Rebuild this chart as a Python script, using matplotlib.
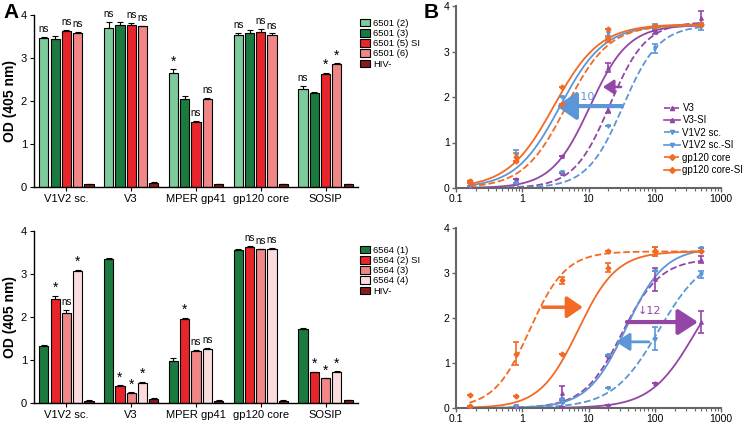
import numpy as np
import matplotlib
matplotlib.use("Agg")
import matplotlib.pyplot as plt
from matplotlib.lines import Line2D
from matplotlib.patches import Patch

plt.rcParams['font.family'] = ['Liberation Sans', 'DejaVu Sans']

# ---------------- data: panel A ----------------
groups = ["V1V2 sc.", "V3", "MPER gp41", "gp120 core", "SOSIP"]

top_labels = ["6501 (2)", "6501 (3)", "6501 (5) SI", "6501 (6)", "HIV-"]
top_colors = ["#7dcb9b", "#1b7a3e", "#e8252b", "#f08686", "#861c20"]
t_2 = [3.47, 3.70, 2.64, 3.53, 2.28]
t_3 = [3.45, 3.77, 2.04, 3.57, 2.19]
t_5 = [3.63, 3.76, 1.52, 3.60, 2.63]
t_6 = [3.59, 3.74, 2.05, 3.53, 2.87]
t_neg = [0.06, 0.10, 0.06, 0.06, 0.07]
t_err = [[0.02, 0.14, 0.10, 0.06, 0.07],
         [0.07, 0.06, 0.08, 0.08, 0.02],
         [0.02, 0.06, 0.02, 0.08, 0.03],
         [0.01, 0.01, 0.03, 0.04, 0.01],
         [0.01, 0.01, 0.01, 0.01, 0.01]]
t_sig = [["ns", "", "ns", "ns", ""],
         ["ns", "", "ns", "ns", ""],
         ["*", "", "ns", "ns", ""],
         ["ns", "", "ns", "ns", ""],
         ["ns", "", "*", "*", ""]]

bot_labels = ["6564 (1)", "6564 (2) SI", "6564 (3)", "6564 (4)", "HIV-"]
bot_colors = ["#1b7a3e", "#e8252b", "#f08686", "#fbdcdc", "#861c20"]
b_1 = [1.33, 3.36, 0.97, 3.56, 1.73]
b_2 = [2.43, 0.40, 1.96, 3.63, 0.71]
b_3 = [2.09, 0.24, 1.22, 3.57, 0.57]
b_4 = [3.07, 0.47, 1.26, 3.59, 0.73]
b_neg = [0.05, 0.10, 0.05, 0.05, 0.07]
b_err = [[0.02, 0.01, 0.07, 0.03, 0.02],
         [0.07, 0.01, 0.02, 0.03, 0.02],
         [0.08, 0.01, 0.02, 0.02, 0.01],
         [0.03, 0.03, 0.03, 0.02, 0.01],
         [0.01, 0.01, 0.01, 0.01, 0.01]]
b_sig = [["", "*", "ns", "*", ""],
         ["", "*", "*", "*", ""],
         ["", "*", "ns", "ns", ""],
         ["", "ns", "ns", "ns", ""],
         ["", "*", "*", "*", ""]]

# ---------------- data: panel B ----------------
conc = [0.16, 0.8, 4, 20, 100, 500]
series_names = ["V3", "V3-SI", "V1V2 sc.", "V1V2 sc.-SI", "gp120 core", "gp120 core-SI"]
series_colors = ["#9346a6", "#9346a6", "#5b96d6", "#5b96d6", "#f26a24", "#f26a24"]
series_ls = ["--", "-", "--", "-", "--", "-"]
series_mk = ["^", "^", "v", "v", "D", "D"]

bt_points = [[0.03, 0.10, 0.33, 1.71, 3.44, 3.73],
             [0.05, 0.20, 0.70, 2.64, 3.47, 3.60],
             [0.05, 0.12, 0.35, 1.36, 3.07, 3.55],
             [0.15, 0.72, 2.00, 3.40, 3.55, 3.55],
             [0.12, 0.60, 1.85, 3.27, 3.55, 3.60],
             [0.15, 0.68, 2.22, 3.50, 3.57, 3.58]]
bt_err = [[0, 0, 0, 0.06, 0.05, 0.17],
          [0, 0, 0, 0.10, 0, 0],
          [0, 0, 0, 0, 0.10, 0.08],
          [0, 0.12, 0, 0.10, 0.05, 0],
          [0, 0, 0, 0.07, 0, 0],
          [0, 0.10, 0, 0, 0, 0]]
# fit parameters: top, EC50, hill
bt_fit = [[3.65, 21.0, 1.6], [3.58, 10.5, 1.5], [3.58, 33.0, 1.6],
          [3.58, 3.7, 1.3], [3.58, 4.6, 1.35], [3.60, 3.0, 1.25]]

bb_points = [[0.03, 0.05, 0.33, 1.15, 2.86, 3.30],
             [0.00, 0.01, 0.03, 0.07, 0.55, 1.91],
             [0.02, 0.05, 0.12, 0.44, 1.54, 2.97],
             [0.02, 0.05, 0.20, 1.17, 3.04, 3.56],
             [0.30, 1.21, 2.84, 3.48, 3.48, 3.48],
             [0.05, 0.27, 1.19, 3.12, 3.48, 3.48]]
bb_err = [[0, 0, 0.15, 0, 0.25, 0.07],
          [0, 0, 0, 0, 0, 0.25],
          [0, 0, 0, 0, 0.25, 0.07],
          [0, 0, 0, 0, 0, 0],
          [0, 0.25, 0.08, 0, 0.10, 0],
          [0, 0, 0, 0.10, 0.10, 0]]
bb_fit = [[3.32, 32.0, 1.5], [3.30, 400.0, 1.3], [3.45, 115.0, 1.25],
          [3.56, 37.0, 1.5], [3.48, 1.3, 1.6], [3.48, 7.0, 1.5]]

# ---------------- figure ----------------
W, H = 744, 425
fig = plt.figure(figsize=(W / 100, H / 100), dpi=100)


def ax_px(l, t, r, b):
    return fig.add_axes([l / W, 1 - b / H, (r - l) / W, (b - t) / H])


def bar_panel(ax, vals, errs, sigs, colors):
    n = len(vals)
    step = 0.174
    width = 0.142
    x0 = np.arange(len(groups))
    for i in range(n):
        xs = x0 + (i - 2) * step
        ax.bar(xs, vals[i], width=width, color=colors[i], edgecolor="black",
               linewidth=0.8, zorder=2)
        ax.errorbar(xs, vals[i], yerr=[np.zeros(len(xs)), errs[i]], fmt="none",
                    ecolor="black", elinewidth=0.8, capsize=2, capthick=0.8, zorder=3)
        for g in range(len(groups)):
            s = sigs[g][i]
            if s:
                y = vals[i][g] + errs[i][g]
                if s == "*":
                    ax.annotate(s, (xs[g], y), xytext=(0, 0.5), textcoords="offset points",
                                ha="center", va="bottom", fontsize=10)
                else:
                    ax.annotate(s, (xs[g], y), xytext=(0, 2), textcoords="offset points",
                                ha="center", va="bottom", fontsize=7)
    ax.set_xlim(-0.5, 4.5)
    ax.set_ylim(0, 4)
    ax.set_xticks(x0)
    ax.set_xticklabels(groups, fontsize=8)
    ax.set_yticks([0, 1, 2, 3, 4])
    ax.tick_params(axis="both", direction="out", length=3, width=0.8, labelsize=8, pad=2)
    for s in ["top", "right"]:
        ax.spines[s].set_visible(False)
    for s in ["left", "bottom"]:
        ax.spines[s].set_linewidth(1.0)


axA1 = ax_px(34, 15, 358, 187)
bar_panel(axA1, [t_2, t_3, t_5, t_6, t_neg], t_err, t_sig, top_colors)
axA2 = ax_px(34, 231, 358, 403)
bar_panel(axA2, [b_1, b_2, b_3, b_4, b_neg], b_err, b_sig, bot_colors)

for labels, colors, ytop in [(top_labels, top_colors, 18),
                             (bot_labels, bot_colors, 245)]:
    handles = [Patch(facecolor=c, edgecolor="black", linewidth=0.8) for c in colors]
    fig.legend(handles, labels, loc="upper left",
               bbox_to_anchor=(359 / W, 1 - ytop / H), frameon=False, fontsize=6.8,
               handlelength=1.1, handleheight=0.85, handletextpad=0.3,
               labelspacing=0.12, borderaxespad=0, borderpad=0.1)

fig.text(10 / W, 1 - 101 / H, "OD (405 nm)", rotation=90, ha="center", va="center",
         fontsize=10, fontweight="bold")
fig.text(10 / W, 1 - 317 / H, "OD (405 nm)", rotation=90, ha="center", va="center",
         fontsize=10, fontweight="bold")
fig.text(3 / W, 1 - 12 / H, "A", fontsize=15, fontweight="bold", ha="left", va="center")
fig.text(424 / W, 1 - 12 / H, "B", fontsize=15, fontweight="bold", ha="left", va="center")


def logistic(x, top, ec50, hill):
    return top / (1 + (ec50 / x) ** hill)


def curve_panel(ax, points, errs, fits, legend=False):
    xx = np.logspace(np.log10(conc[0]), np.log10(conc[-1]), 300)
    for k in range(len(series_names)):
        c = series_colors[k]
        top, ec50, hill = fits[k]
        ax.plot(xx, logistic(xx, top, ec50, hill), color=c, ls=series_ls[k], lw=1.3,
                zorder=2)
        ax.errorbar(conc, points[k], yerr=errs[k], fmt=series_mk[k], color=c, ms=2.5,
                    elinewidth=1.2, capsize=2.2, capthick=1.2, zorder=3)
    ax.set_xscale("log")
    ax.set_xlim(0.1, 1000)
    ax.set_ylim(0, 4)
    ax.set_xticks([0.1, 1, 10, 100, 1000])
    ax.set_xticklabels(["0.1", "1", "10", "100", "1000"])
    ax.set_yticks([0, 1, 2, 3, 4])
    ax.tick_params(axis="both", which="major", direction="out", length=3, width=1,
                   labelsize=7.5, pad=1.5, color="#666666")
    ax.tick_params(axis="x", which="minor", direction="out", length=2, width=0.8,
                   color="#666666")
    for s in ["top", "right"]:
        ax.spines[s].set_visible(False)
    for s in ["left", "bottom"]:
        ax.spines[s].set_linewidth(1.5)
        ax.spines[s].set_color("#666666")
    if legend:
        handles = [Line2D([0], [0], color=series_colors[k], ls=series_ls[k], lw=1.2,
                          marker=series_mk[k], ms=3) for k in range(len(series_names))]
        ax.legend(handles, series_names, loc="upper left",
                  bbox_to_anchor=(664 / W, 1 - 103 / H), bbox_transform=fig.transFigure,
                  frameon=False, fontsize=7, handlelength=1.6, handletextpad=0.3,
                  labelspacing=0.25, borderaxespad=0, borderpad=0)


axB1 = ax_px(456, 6, 721, 188)
curve_panel(axB1, bt_points, bt_err, bt_fit, legend=True)
axB2 = ax_px(456, 228, 721, 408)
curve_panel(axB2, bb_points, bb_err, bb_fit)

blue = "#5b96d6"
purple = "#9346a6"
orange = "#f26a24"

# top B arrows
axB1.annotate("", xy=(3.3, 1.8), xytext=(32, 1.8),
              arrowprops=dict(arrowstyle="-|>,head_length=1.0,head_width=0.7",
                              color=blue, lw=3, mutation_scale=12, shrinkA=0, shrinkB=0))
axB1.text(5.6, 2.0, "\u219110", color=blue, fontsize=8, ha="left", va="center",
          family=["DejaVu Sans"])
axB1.annotate("", xy=(16.5, 2.22), xytext=(31, 2.22),
              arrowprops=dict(arrowstyle="-|>,head_length=0.6,head_width=0.4",
                              color=purple, lw=1.8, mutation_scale=11, shrinkA=0, shrinkB=0))

# bottom B arrows
axB2.annotate("", xy=(8.2, 2.24), xytext=(2.05, 2.24),
              arrowprops=dict(arrowstyle="-|>,head_length=0.8,head_width=0.55",
                              color=orange, lw=2.5, mutation_scale=12, shrinkA=0, shrinkB=0))
axB2.annotate("", xy=(25.9, 1.47), xytext=(81.5, 1.47),
              arrowprops=dict(arrowstyle="-|>,head_length=0.7,head_width=0.45",
                              color=blue, lw=2, mutation_scale=12, shrinkA=0, shrinkB=0))
axB2.annotate("", xy=(450, 1.91), xytext=(38, 1.91),
              arrowprops=dict(arrowstyle="-|>,head_length=1.0,head_width=0.65",
                              color=purple, lw=3, mutation_scale=12, shrinkA=0, shrinkB=0))
axB2.text(55, 2.16, "\u219312", color=purple, fontsize=8, ha="left", va="center",
          family=["DejaVu Sans"])

fig.savefig("out.png", dpi=100)
